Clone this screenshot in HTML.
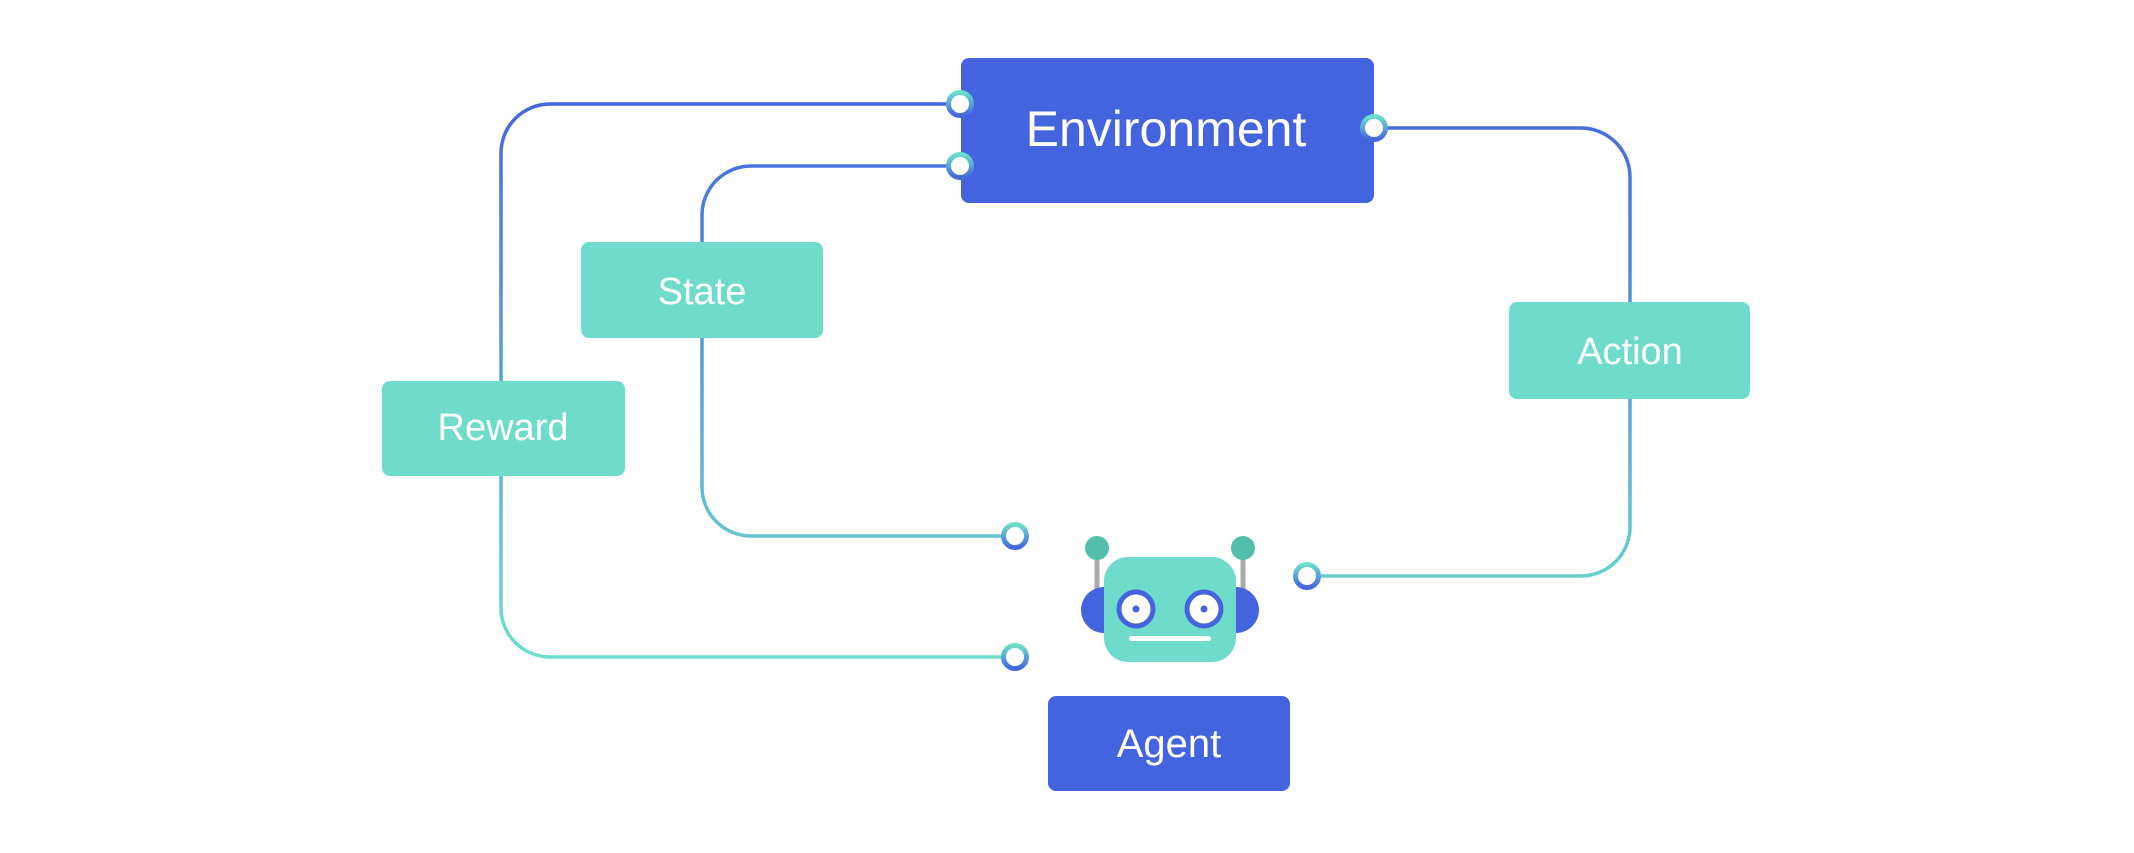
<!DOCTYPE html>
<html><head><meta charset="utf-8"><style>
html,body{margin:0;padding:0;background:#fff;}
svg{display:block;}
text{font-family:"Liberation Sans",sans-serif;fill:#fff;}
</style></head><body>
<svg width="2134" height="853" viewBox="0 0 2134 853" xmlns="http://www.w3.org/2000/svg">
<defs>
<linearGradient id="lg" gradientUnits="userSpaceOnUse" x1="0" y1="100" x2="0" y2="660">
<stop offset="0" stop-color="#4466de"/><stop offset="1" stop-color="#6de0cb"/>
</linearGradient>
<linearGradient id="pg" x1="0" y1="0" x2="0" y2="1">
<stop offset="0" stop-color="#6ddfcb"/><stop offset="1" stop-color="#4466de"/>
</linearGradient>
</defs>
<g fill="none" stroke="url(#lg)" stroke-width="3.5">
<path d="M960 104 H550 A49 49 0 0 0 501 153 V608 A49 49 0 0 0 550 657 H1014"/>
<path d="M960 166 H751 A49 49 0 0 0 702 215 V487 A49 49 0 0 0 751 536 H1014"/>
<path d="M1374 128 H1581 A49 49 0 0 1 1630 177 V527 A49 49 0 0 1 1581 576 H1307"/>
</g>
<rect x="961" y="58" width="413" height="145" rx="8" fill="#4464df"/>
<text x="1166" y="146" font-size="50" text-anchor="middle">Environment</text>
<rect x="581" y="242" width="242" height="96" rx="8" fill="#6fdbca"/>
<text x="702" y="304" font-size="38" text-anchor="middle">State</text>
<rect x="382" y="381" width="243" height="95" rx="8" fill="#6fdbca"/>
<text x="503" y="440" font-size="38" text-anchor="middle">Reward</text>
<rect x="1509" y="302" width="241" height="97" rx="8" fill="#6fdbca"/>
<text x="1630" y="364" font-size="38" text-anchor="middle">Action</text>
<rect x="1048" y="696" width="242" height="95" rx="8" fill="#4464df"/>
<text x="1169" y="757" font-size="40" text-anchor="middle">Agent</text>
<g fill="#fff" stroke="url(#pg)" stroke-width="5">
<circle cx="960" cy="104" r="11.5"/><circle cx="960" cy="166" r="11.5"/>
<circle cx="1374" cy="128" r="11.5"/><circle cx="1015" cy="536" r="11.5"/>
<circle cx="1015" cy="657" r="11.5"/><circle cx="1307" cy="576" r="11.5"/>
</g>
<!-- robot -->
<rect x="1094.5" y="548" width="5" height="42" fill="#aaa"/>
<rect x="1240.5" y="548" width="5" height="42" fill="#aaa"/>
<circle cx="1097" cy="548" r="12" fill="#52bfad"/>
<circle cx="1243" cy="548" r="12" fill="#52bfad"/>
<circle cx="1104" cy="610" r="23" fill="#4464df"/>
<circle cx="1236" cy="610" r="23" fill="#4464df"/>
<rect x="1104" y="557" width="132" height="105" rx="24" fill="#6fdbca"/>
<circle cx="1136" cy="609" r="17" fill="#fff" stroke="#4464df" stroke-width="5"/>
<circle cx="1204" cy="609" r="17" fill="#fff" stroke="#4464df" stroke-width="5"/>
<circle cx="1136" cy="609" r="3.5" fill="#4464df"/>
<circle cx="1204" cy="609" r="3.5" fill="#4464df"/>
<rect x="1129" y="636" width="82" height="5" rx="2.5" fill="#fff"/>
</svg>
</body></html>
